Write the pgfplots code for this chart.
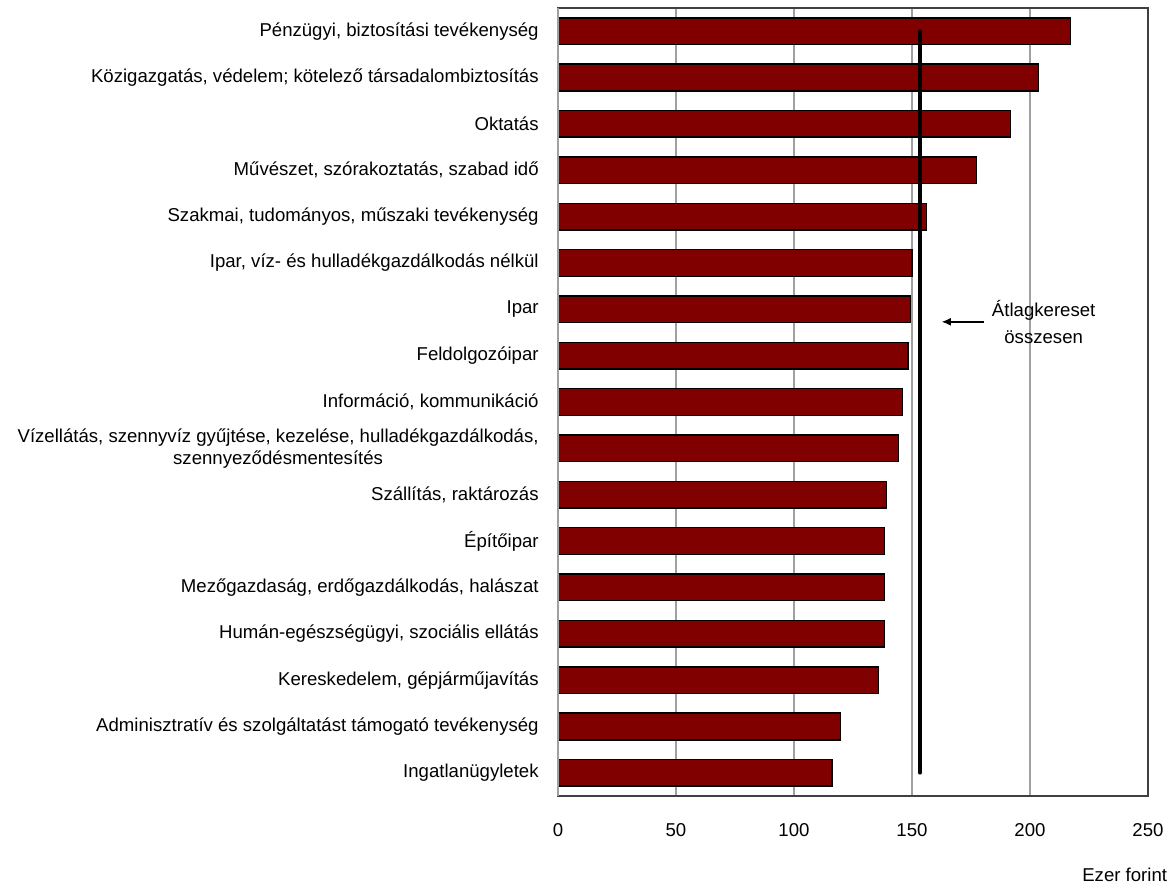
\documentclass[border=0pt]{standalone}
\usepackage{fontspec}
\setmainfont{Liberation Sans}
\usepackage{pgfplots}
\pgfplotsset{compat=1.18}
\usetikzlibrary{arrows.meta}
\definecolor{barred}{HTML}{800000}
\definecolor{gridgrey}{HTML}{A0A0A0}

\begin{document}
\begin{tikzpicture}
\path[use as bounding box] (-418.5bp,-66bp) rectangle (461.25bp,597bp);
\begin{axis}[
    at={(0,0)}, anchor=south west,
    scale only axis,
    width=442.5bp, height=591bp,
    xbar, bar width=20bp,
    y dir=reverse,
    xmin=0, xmax=250,
    ymin=0.5, ymax=17.5,
    xtick={0,50,100,150,200,250},
    ytick={1,...,17},
    yticklabels={
        {Pénzügyi, biztosítási tevékenység},
        {Közigazgatás, védelem; kötelező társadalombiztosítás},
        Oktatás,
        {Művészet, szórakoztatás, szabad idő},
        {Szakmai, tudományos, műszaki tevékenység},
        {Ipar, víz- és hulladékgazdálkodás nélkül},
        Ipar,
        Feldolgozóipar,
        {Információ, kommunikáció},
        {Vízellátás, szennyvíz gyűjtése, kezelése, hulladékgazdálkodás,\\szennyeződésmentesítés},
        {Szállítás, raktározás},
        Építőipar,
        {Mezőgazdaság, erdőgazdálkodás, halászat},
        {Humán-egészségügyi, szociális ellátás},
        {Kereskedelem, gépjárműjavítás},
        Adminisztratív és szolgáltatást támogató tevékenység,
        Ingatlanügyletek},
    major tick length=0pt,
    xmajorgrids,
    grid style={gridgrey, line width=1bp},
    axis line style={black!75, line width=1bp},
    tick label style={font=\fontsize{14}{16.5}\selectfont},
    /pgf/number format/assume math mode=true,
    yticklabel style={align=center, xshift=-11bp},
    xticklabel style={yshift=-17bp},
    clip=false,
]
\addplot[fill=barred, draw=black, line width=1.1bp] coordinates {
    (217.1,1) (203.5,2) (191.7,3) (177.3,4) (156.1,5) (150.1,6)
    (149.3,7) (148.4,8) (145.9,9) (144.2,10) (139.1,11) (138.3,12)
    (138.3,13) (138.3,14) (135.7,15) (119.6,16) (116.2,17)
};
\addplot[sharp plot, black, line width=2.6bp, line cap=round, forget plot] coordinates {(153.4,1) (153.4,17)};
\draw[gridgrey, line width=1.5bp] (axis cs:0,0.5) -- (axis cs:0,17.5);
\draw[-{Latex[length=7bp,width=6bp]}, line width=1.4bp] (axis cs:180.3,7.27) -- (axis cs:162.5,7.27);
\node[align=center, font=\fontsize{14}{20}\selectfont] at (axis cs:205.8,7.27) {Átlagkereset\\összesen};
\end{axis}
\node[anchor=east, font=\fontsize{14}{16.5}\selectfont, inner sep=0pt] at (457bp,-59bp) {Ezer forint};
\end{tikzpicture}
\end{document}
